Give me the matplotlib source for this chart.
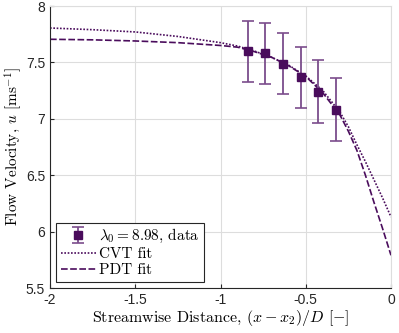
import matplotlib
matplotlib.use('Agg')
import matplotlib.pyplot as plt

# measured data
x_data = [-0.839, -0.739, -0.633, -0.528, -0.428, -0.323]
u_data = [7.60, 7.58, 7.49, 7.37, 7.24, 7.08]
u_err = [0.27, 0.27, 0.27, 0.27, 0.28, 0.28]

# fit curves
x_fit = [-2, -1.75, -1.5, -1.25, -1, -0.9, -0.8, -0.7, -0.6, -0.5, -0.4,
         -0.3, -0.25, -0.2, -0.15, -0.1, -0.05, 0]
u_cvt = [7.805, 7.79, 7.77, 7.73, 7.675, 7.645, 7.60, 7.545, 7.475, 7.38, 7.25,
         7.06, 6.93, 6.77, 6.62, 6.46, 6.30, 6.13]
u_pdt = [7.705, 7.70, 7.69, 7.675, 7.65, 7.635, 7.595, 7.545, 7.47, 7.375, 7.23,
         7.035, 6.89, 6.72, 6.50, 6.26, 6.03, 5.79]

col = '#4a0c5c'

plt.rcParams['mathtext.fontset'] = 'cm'
plt.rcParams['font.family'] = 'Liberation Sans'

fig = plt.figure(figsize=(3.99, 3.33), dpi=100)
ax = fig.add_axes([50/399, 1-288/333, 341/399, 282/333])

ax.plot(x_fit, u_cvt, ls=(0, (1, 1)), color=col, lw=1.2, label='CVT fit')
ax.plot(x_fit, u_pdt, ls=(0, (4, 1.5)), color=col, lw=1.2, label='PDT fit')
ax.errorbar(x_data, u_data, yerr=u_err, fmt='s', color=col, ms=6,
            ecolor='#7b4d8c', elinewidth=1.3, capsize=4, capthick=1.2,
            label=r'$\lambda_0 = 8.98$, data', zorder=5)

ax.set_xlim(-2, 0)
ax.set_ylim(5.5, 8)
ax.set_xticks([-2, -1.5, -1, -0.5, 0])
ax.set_xticklabels(['-2', '-1.5', '-1', '-0.5', '0'])
ax.set_yticks([5.5, 6, 6.5, 7, 7.5, 8])
ax.set_yticklabels(['5.5', '6', '6.5', '7', '7.5', '8'])
ax.grid(True, color='#dddddd', lw=0.8)
ax.set_axisbelow(True)
ax.tick_params(direction='in', length=3, labelsize=10, colors='#262626')
ax.spines['top'].set_color('#dddddd')
ax.spines['right'].set_color('#dddddd')
ax.spines['left'].set_color('#262626')
ax.spines['bottom'].set_color('#262626')

ax.set_xlabel(r'Streamwise Distance, $(x - x_2)/D$ $[-]$', family='cmr10', fontsize=11.5, labelpad=1)
ax.set_ylabel(r'Flow Velocity, $u$ [ms$^{-1}$]', family='cmr10', fontsize=11, labelpad=1)

handles, labels = ax.get_legend_handles_labels()
order = [2, 0, 1]
leg = ax.legend([handles[i] for i in order], [labels[i] for i in order],
                loc='lower left', fancybox=False, edgecolor='#262626',
                prop={'family': 'cmr10', 'size': 11}, handlelength=2.3,
                handletextpad=0.2, borderaxespad=0.4, borderpad=0.3,
                labelspacing=0.15, framealpha=1)
leg.get_frame().set_linewidth(0.8)

fig.savefig('out.png', dpi=100)
